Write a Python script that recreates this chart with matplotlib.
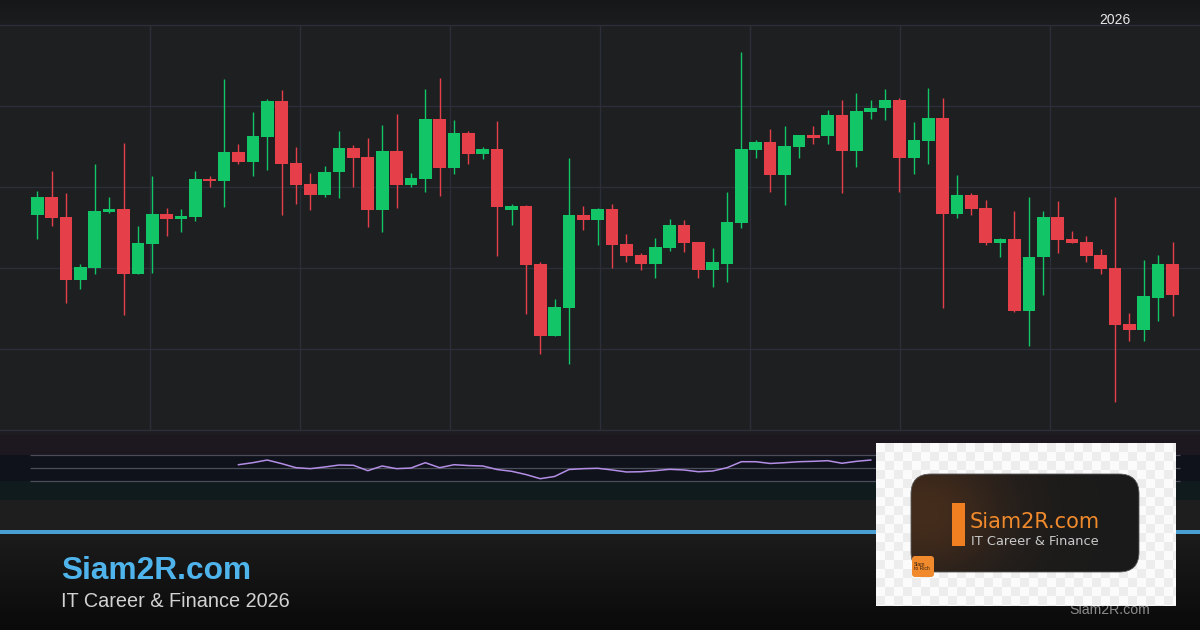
import numpy as np
import matplotlib
matplotlib.use("Agg")
import matplotlib.pyplot as plt
from matplotlib.patches import FancyBboxPatch, Rectangle

# ---------------- data ----------------
opens = [26.5, 28.8, 26.3, 18.5, 20.0, 26.9, 27.3, 19.3, 23.0, 26.7,
         26.1, 26.3, 31.0, 30.8, 34.3, 33.1, 36.2, 40.6, 33.0, 30.4,
         29.0, 31.8, 34.8, 33.7, 27.1, 34.4, 30.2, 31.0, 38.4, 32.3,
         36.7, 34.1, 34.7, 27.2, 27.6, 20.5, 11.6, 15.1, 26.6, 25.9,
         27.3, 23.0, 21.6, 20.5, 22.5, 25.3, 23.2, 19.8, 20.5, 25.6,
         34.6, 35.6, 31.5, 35.0, 36.4, 36.3, 38.9, 34.5, 39.3, 39.7,
         40.7, 33.6, 35.7, 38.5, 26.7, 29.0, 27.4, 23.1, 23.6, 14.7,
         21.3, 26.3, 23.6, 23.2, 21.6, 20.0, 13.1, 12.4, 16.3, 20.5]
highs = [29.5, 32.0, 29.3, 20.5, 32.9, 28.8, 35.4, 25.2, 31.4, 27.4,
         27.3, 32.0, 31.4, 43.3, 35.3, 39.3, 40.9, 42.0, 34.9, 31.7,
         32.6, 36.9, 35.2, 36.0, 37.6, 39.0, 31.7, 42.1, 43.5, 38.3,
         36.9, 35.0, 38.1, 27.9, 27.8, 20.8, 16.2, 33.6, 27.6, 27.4,
         27.9, 24.2, 21.9, 23.7, 26.0, 25.9, 23.2, 22.5, 29.4, 46.7,
         35.8, 37.2, 37.5, 36.4, 37.5, 39.5, 40.7, 41.6, 40.7, 42.1,
         41.0, 38.0, 42.2, 41.0, 31.5, 29.3, 28.4, 23.7, 27.0, 28.8,
         27.0, 28.3, 24.6, 23.9, 22.4, 28.8, 14.5, 21.0, 21.6, 23.2]
lows = [23.6, 25.2, 15.7, 17.4, 19.2, 26.8, 14.2, 19.2, 19.4, 24.0,
        24.4, 25.8, 30.0, 27.5, 32.9, 31.4, 32.1, 26.6, 27.9, 27.1,
        28.8, 28.7, 30.0, 25.1, 24.5, 27.4, 30.0, 29.4, 28.9, 31.6,
        32.8, 33.4, 21.5, 25.3, 14.3, 9.4, 11.6, 8.1, 24.7, 22.9,
        20.0, 20.7, 19.7, 18.8, 22.1, 22.0, 18.8, 17.7, 18.3, 24.9,
        33.6, 29.4, 27.8, 33.6, 35.3, 35.3, 29.2, 32.5, 38.4, 38.3,
        29.4, 31.6, 32.9, 15.1, 26.2, 26.6, 22.9, 21.4, 14.6, 10.4,
        16.7, 21.9, 23.1, 20.7, 19.2, 3.4, 11.0, 11.0, 13.5, 14.1]
closes = [28.8, 26.2, 18.5, 20.1, 27.0, 27.3, 19.3, 23.1, 26.7, 26.1,
          26.4, 31.0, 30.7, 34.3, 33.1, 36.3, 40.6, 32.9, 30.3, 29.0,
          31.9, 34.8, 33.6, 27.1, 34.4, 30.2, 31.1, 38.4, 32.3, 36.7,
          34.1, 34.7, 27.5, 27.6, 20.4, 11.6, 15.2, 26.6, 25.9, 27.3,
          22.9, 21.5, 20.5, 22.6, 25.3, 23.1, 19.8, 20.7, 25.7, 34.7,
          35.6, 31.5, 35.1, 36.4, 36.1, 38.9, 34.5, 39.4, 39.8, 40.7,
          33.6, 35.8, 38.5, 26.7, 29.0, 27.3, 23.1, 23.6, 14.7, 21.4,
          26.3, 23.5, 23.1, 21.5, 19.9, 13.0, 12.4, 16.5, 20.5, 16.7]

rsi_start = 14
rsi_values = [54.3, 57.4, 61.5, 56.0, 49.7, 48.2, 50.8, 53.8, 53.4, 45.1,
              52.3, 48.2, 49.2, 57.4, 49.7, 54.3, 53.0, 52.3, 46.9, 44.2,
              39.2, 32.8, 36.2, 46.9, 48.2, 48.8, 46.2, 43.1, 43.5, 45.1,
              47.2, 46.2, 43.5, 44.6, 49.7, 58.9, 58.9, 56.2, 57.4, 58.9,
              59.5, 60.5, 56.5, 59.5, 61.5]
rsi_levels = [30, 50, 70]
price_grid = [0, 10, 20, 30, 40, 50]

brand = "Siam2R.com"
subtitle = "IT Career & Finance 2026"
year_label = "2026"
logo_title = "Siam2R.com"
logo_sub = "IT Career & Finance"
badge_text = "Siam\nto Rich"

# ---------------- style ----------------
GREEN = "#12c566"
RED = "#e5404a"
CHART_BG = "#1e1f21"
GRID = "#2b2f3a"

W, H = 1200, 630
fig = plt.figure(figsize=(W / 100, H / 100), dpi=100)
fig.patch.set_facecolor("#1e1e1e")

def frac(x0, y0, x1, y1):
    return [x0 / W, 1 - y1 / H, (x1 - x0) / W, (y1 - y0) / H]

# background / decoration axes in pixel coordinates
bg = fig.add_axes([0, 0, 1, 1], zorder=0)
bg.set_xlim(0, W); bg.set_ylim(H, 0); bg.axis("off")
top_grad = np.linspace(0, 1, 50).reshape(-1, 1)
bg.imshow(top_grad, extent=(0, W, 25, 0), aspect="auto",
          cmap=matplotlib.colors.LinearSegmentedColormap.from_list("t", ["#161719", "#1c1d1f"]))
bot_grad = np.linspace(0, 1, 100).reshape(-1, 1)
bg.imshow(bot_grad, extent=(0, W, H, 533), aspect="auto",
          cmap=matplotlib.colors.LinearSegmentedColormap.from_list("b", ["#1c1c1c", "#0a0a0a"]))
bg.add_patch(Rectangle((0, 430), W, 5, color="#1d1d20", lw=0))

n = len(opens)
idx = np.arange(n)
step = 14.37
first = 37.3
xlim = (-first / step, (W - first) / step)

# ---------------- main candlestick axes ----------------
ax = fig.add_axes(frac(0, 25, W, 430), zorder=1)
ax.set_facecolor(CHART_BG)
ax.set_xlim(*xlim)
ax.set_ylim(0, 50)
for s in ax.spines.values():
    s.set_visible(False)
vgrid = [xlim[0] + px / W * (xlim[1] - xlim[0]) for px in range(150, 1200, 150)]
for g in vgrid:
    ax.axvline(g, color=GRID, lw=0.9, zorder=0)
for g in price_grid:
    ax.axhline(g, color=GRID, lw=0.9, zorder=0, clip_on=False)
ax.set_xticks([]); ax.set_yticks([])

o = np.array(opens); c = np.array(closes)
hi = np.array(highs); lo = np.array(lows)
up = c >= o
cols = np.where(up, GREEN, RED)
ax.vlines(idx, lo, hi, colors=cols, lw=1.0, zorder=2)
ax.bar(idx, np.abs(c - o), bottom=np.minimum(o, c), width=0.88,
       color=cols, linewidth=0, zorder=3)

# ---------------- RSI panel ----------------
rx = fig.add_axes(frac(0, 435, W, 500), zorder=1)
rx.set_xlim(*xlim)
rx.set_ylim(0, 100)
rx.axis("off")
rx.axhspan(70, 100, color="#1d1720", lw=0)
rx.axhspan(30, 70, color="#0f121a", lw=0)
rx.axhspan(0, 30, color="#101b1e", lw=0)
for lv in rsi_levels:
    rx.hlines(lv, -0.5, n - 0.5, color="#4a4e58", lw=0.9)
rsi_x = np.arange(rsi_start, rsi_start + len(rsi_values))
rx.plot(rsi_x, rsi_values, color="#b48ee6", lw=1.1)

# ---------------- overlay (logo, branding) ----------------
ov = fig.add_axes([0, 0, 1, 1], zorder=5)
ov.set_xlim(0, W); ov.set_ylim(H, 0); ov.axis("off")
ov.patch.set_alpha(0)

ov.add_patch(Rectangle((0, 530), W, 3.5, color="#4a9fd2", lw=0))
ov.text(61, 579, brand, color="#4fb4ec", fontsize=22.8, fontweight="bold",
        family="Liberation Sans", va="baseline", ha="left")
ov.text(61, 607, subtitle, color="#d2d2d2", fontsize=14.3,
        family="Liberation Sans", va="baseline", ha="left")
ov.text(1115, 20, year_label, color="#e8e8e8", fontsize=10,
        family="Liberation Sans", va="center", ha="center")
ov.text(1110, 610, brand, color="#8c8c8c", fontsize=10.2,
        family="Liberation Sans", va="center", ha="center")

# checkered logo card
bx0, by0, bx1, by1 = 876, 443, 1176, 606
yy, xx = np.mgrid[0:by1 - by0, 0:bx1 - bx0]
chk = ((yy // 9 + xx // 9) % 2).astype(float)
ov.imshow(chk, extent=(bx0, bx1, by1, by0), aspect="auto", interpolation="nearest",
          cmap=matplotlib.colors.LinearSegmentedColormap.from_list("c", ["#fbfbfb", "#ededed"]),
          zorder=6)

# dark rounded badge with gradient
rx0, ry0, rx1, ry1 = 911, 474, 1139, 572
rb = FancyBboxPatch((rx0, ry0), rx1 - rx0, ry1 - ry0,
                    boxstyle="round,pad=0,rounding_size=20",
                    facecolor="none", edgecolor="#5a5a5a", lw=0.6, zorder=8)
gy, gx = np.mgrid[0:1:100j, 0:1:230j]
glow = np.exp(-((gx - 0.05) ** 2 / 0.14 + (gy - 0.4) ** 2 / 0.5))
img = np.zeros((100, 230, 3))
dark = np.array([0.105, 0.105, 0.105])
brown = np.array([0.27, 0.175, 0.11])
img[:] = dark
img = img * (1 - glow[..., None]) + brown * glow[..., None]
im = ov.imshow(img, extent=(rx0, rx1, ry1, ry0), aspect="auto", zorder=7)
clip = FancyBboxPatch((rx0, ry0), rx1 - rx0, ry1 - ry0,
                      boxstyle="round,pad=0,rounding_size=20",
                      transform=ov.transData, facecolor="none")
im.set_clip_path(clip)
ov.add_patch(rb)

ov.add_patch(Rectangle((952, 503), 13, 43, color="#f07f22", lw=0, zorder=9))
ov.text(970, 528, logo_title, color="#f08a2c", fontsize=15, family="DejaVu Sans",
        va="baseline", ha="left", zorder=9)
ov.text(971, 545, logo_sub, color="#c9c9c9", fontsize=9.4, family="DejaVu Sans",
        va="baseline", ha="left", zorder=9)
ov.add_patch(FancyBboxPatch((912, 556), 22, 21, boxstyle="round,pad=0,rounding_size=3",
                            facecolor="#f08a2c", edgecolor="none", zorder=9))
ov.text(914, 566.5, badge_text, color="#3a2412", fontsize=3.6, family="Liberation Sans",
        va="center", ha="left", linespacing=1.0, zorder=10)

fig.savefig("out.png", dpi=100, facecolor=fig.get_facecolor())
